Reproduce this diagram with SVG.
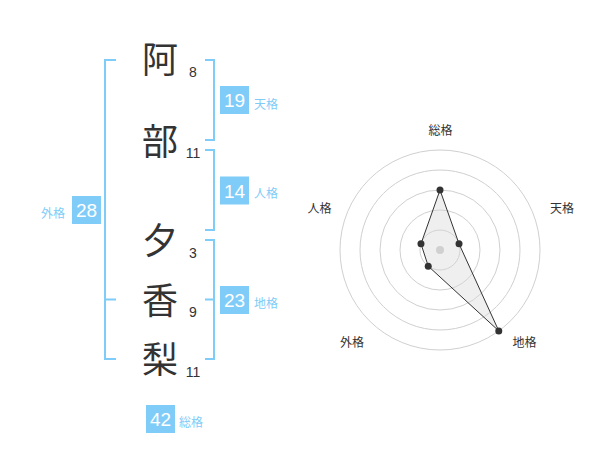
<svg xmlns="http://www.w3.org/2000/svg" width="600" height="470" viewBox="0 0 600 470">
<style>
.kanji{font-family:"Noto Sans CJK JP","Noto Sans CJK SC",sans-serif;font-size:36px;fill:#333;text-anchor:middle}
.stroke{font-family:"Liberation Sans",Arial,sans-serif;font-size:14px;fill:#333;text-anchor:middle}
.br{fill:none;stroke:#80ccf8;stroke-width:2}
.box{fill:#80ccf8}
.bn{font-family:"Liberation Sans",Arial,sans-serif;font-size:19px;fill:#fff;text-anchor:middle}
.lb{font-family:"Noto Sans CJK JP","Noto Sans CJK SC",sans-serif;font-size:12px;fill:#80ccf8}
.rl{font-family:"Noto Sans CJK JP","Noto Sans CJK SC",sans-serif;font-size:12px;fill:#333;text-anchor:middle}
.ring{fill:none;stroke:#d0d0d0;stroke-width:1}
.pt{fill:#333}
</style>
<rect width="600" height="470" fill="#fff"/>
<g id="chars">
<g id="c1"><text class="kanji" x="160" y="73">阿</text><text class="stroke" x="193" y="77">8</text></g>
<g id="c2"><text class="kanji" x="160" y="155">部</text><text class="stroke" x="193" y="158">11</text></g>
<g id="c3"><text class="kanji" x="160" y="254">夕</text><text class="stroke" x="193" y="258">3</text></g>
<g id="c4"><text class="kanji" x="160" y="314">香</text><text class="stroke" x="193" y="317">9</text></g>
<g id="c5"><text class="kanji" x="160" y="373">梨</text><text class="stroke" x="193" y="377">11</text></g>
</g>
<g id="connectors">
<path class="br" d="M116,60 H105 V359 H116 M105,299.5 H116"/>
<path class="br" d="M205,60 H214 V140 H205"/>
<path class="br" d="M205,150 H214 V230 H205"/>
<path class="br" d="M205,240 H214 V359 H205 M205,299.5 H214"/>
</g>
<g id="tenkaku"><rect class="box" x="220" y="86" width="29" height="28"/><text class="bn" x="234.5" y="107">19</text><text class="lb" x="254" y="108.5">天格</text></g>
<g id="jinkaku"><rect class="box" x="220" y="176.5" width="29" height="28"/><text class="bn" x="234.5" y="197.5">14</text><text class="lb" x="254" y="198">人格</text></g>
<g id="chikaku"><rect class="box" x="220" y="286" width="29" height="28"/><text class="bn" x="234.5" y="307">23</text><text class="lb" x="254" y="307.5">地格</text></g>
<g id="gaikaku"><rect class="box" x="72" y="196" width="29" height="28"/><text class="bn" x="86.5" y="217">28</text><text class="lb" x="41" y="218">外格</text></g>
<g id="soukaku"><rect class="box" x="146" y="405" width="29" height="28"/><text class="bn" x="160.5" y="426">42</text><text class="lb" x="179" y="426.5">総格</text></g>
<g id="radar">
<circle class="ring" cx="440" cy="250" r="20"/>
<circle class="ring" cx="440" cy="250" r="40"/>
<circle class="ring" cx="440" cy="250" r="60"/>
<circle class="ring" cx="440" cy="250" r="80"/>
<circle class="ring" cx="440" cy="250" r="100"/>
<circle cx="440" cy="250" r="4" fill="#cccccc"/>
<polygon points="440,190 459.02,243.82 498.78,330.9 428.24,266.18 420.98,243.82" fill="#d8d8d8" fill-opacity="0.4" stroke="#333" stroke-width="1"/>
<circle class="pt" cx="440" cy="190" r="3.5"/>
<circle class="pt" cx="459.02" cy="243.82" r="3.5"/>
<circle class="pt" cx="498.78" cy="330.9" r="3.5"/>
<circle class="pt" cx="428.24" cy="266.18" r="3.5"/>
<circle class="pt" cx="420.98" cy="243.82" r="3.5"/>
<text class="rl" x="440.5" y="135">総格</text>
<text class="rl" x="562" y="212.5">天格</text>
<text class="rl" x="319.5" y="212.5">人格</text>
<text class="rl" x="352" y="346.5">外格</text>
<text class="rl" x="524.5" y="346.5">地格</text>
</g>
</svg>
